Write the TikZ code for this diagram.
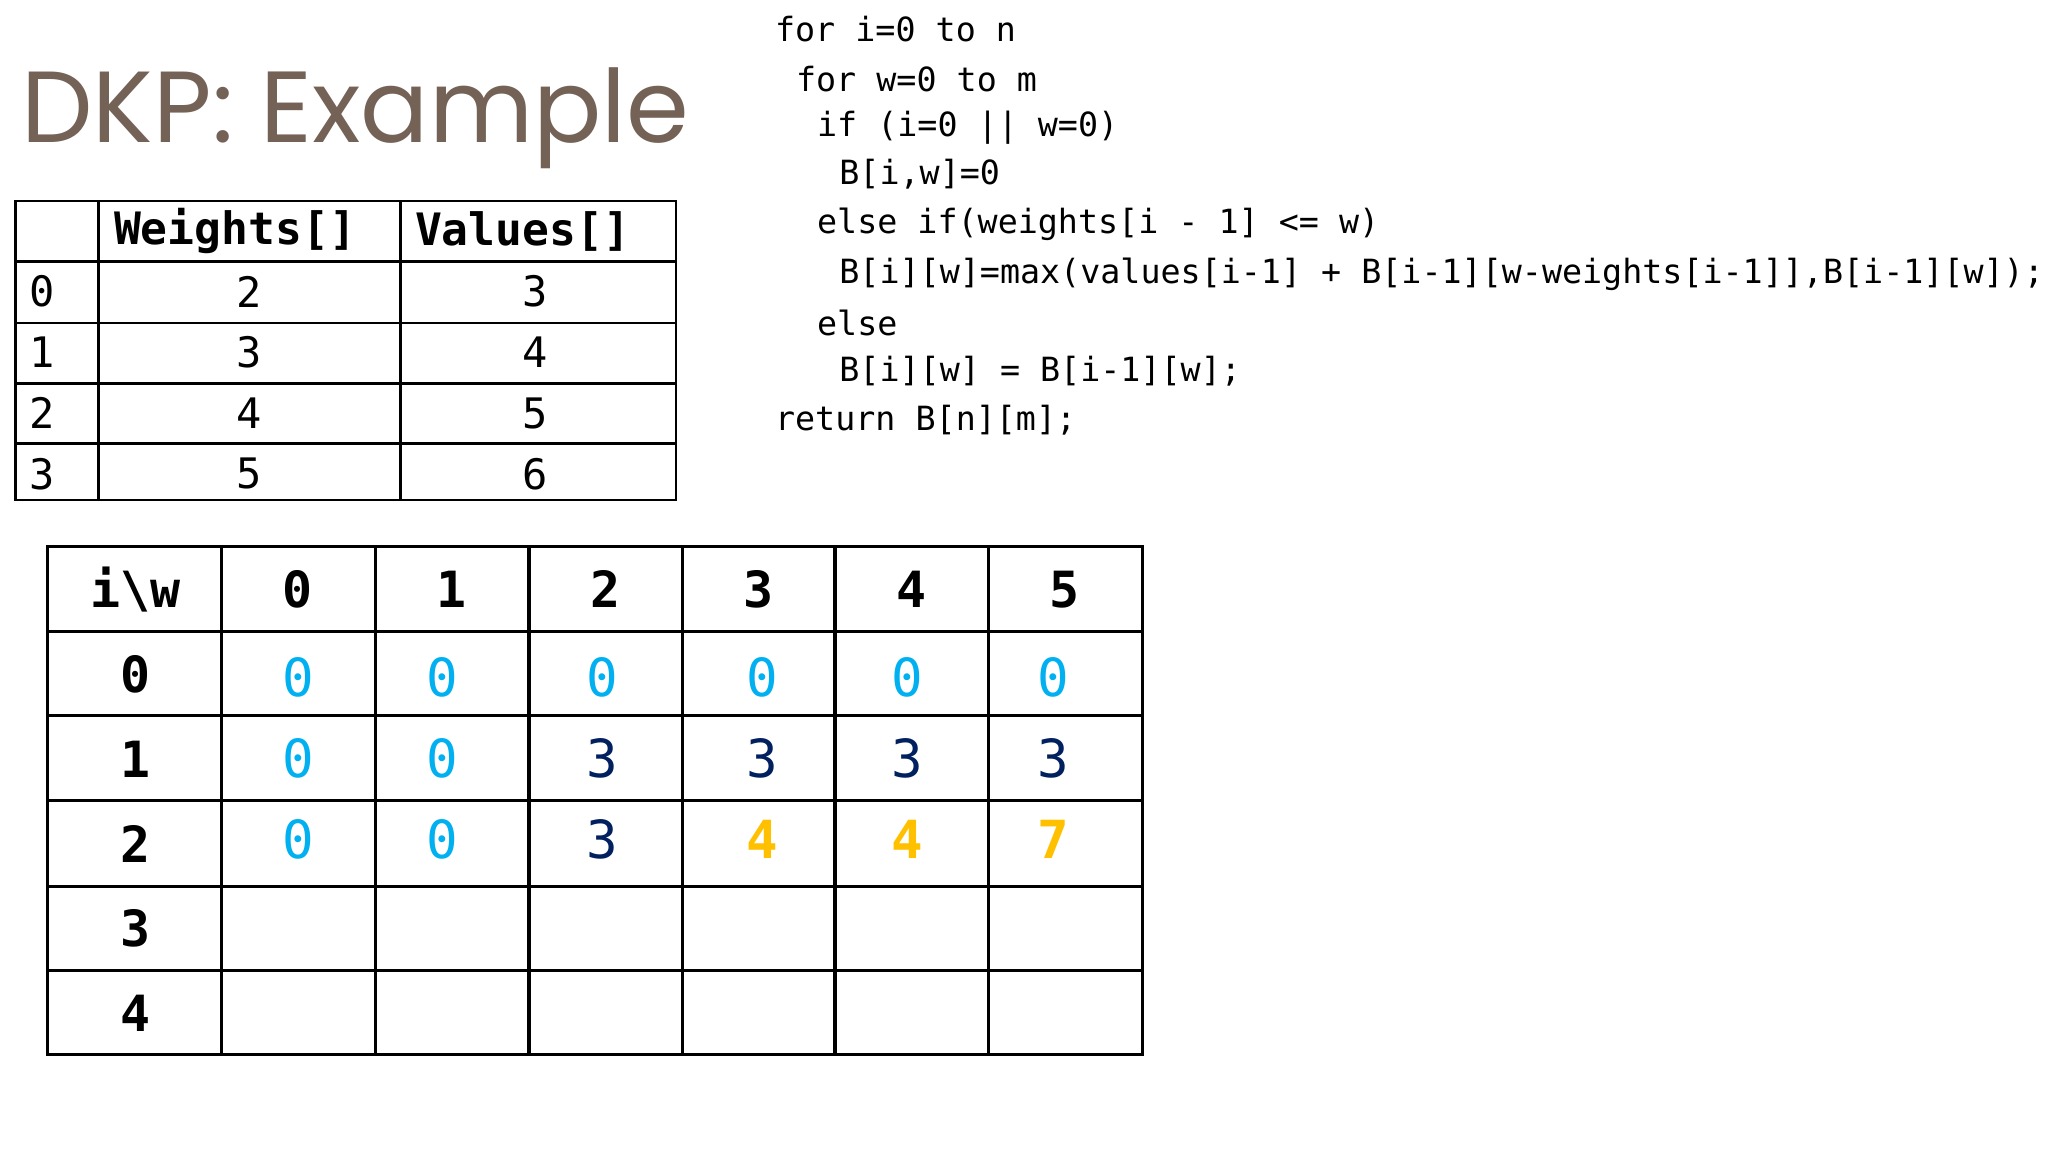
\documentclass[tikz,border=0pt]{standalone}
\usepackage{fontspec}
\setmainfont{Poppins}
\setmonofont{DejaVu Sans Mono}
\definecolor{titlebrown}{RGB}{117,98,86}
\definecolor{zerocyan}{RGB}{0,176,240}
\definecolor{valnavy}{RGB}{0,32,96}
\definecolor{newgold}{RGB}{255,192,0}
\begin{document}
\begin{tikzpicture}[x=0.5pt,y=-0.5pt,
    codeline/.style={anchor=west,inner sep=0pt,font=\ttfamily\fontsize{12.7}{14}\selectfont},
    small cell/.style={inner sep=0pt,font=\ttfamily\fontsize{16}{18}\selectfont},
    head cell/.style={inner sep=0pt,font=\ttfamily\bfseries\fontsize{17}{19}\selectfont},
    big cell/.style={inner sep=0pt,font=\ttfamily\bfseries\fontsize{19}{22}\selectfont},
    dp cell/.style={inner sep=0pt,font=\ttfamily\fontsize{20}{22}\selectfont},
    new cell/.style={dp cell,font=\ttfamily\bfseries\fontsize{20}{22}\selectfont}
  ]
  \useasboundingbox[fill=white] (0,0) rectangle (1560,877.5);
  % title
  \node[anchor=west,inner sep=0pt,text=titlebrown,font=\fontsize{38.5}{42}\selectfont] (title) at (16,90) {DKP: Example};
  % pseudo code
  \node[codeline] (c1) at (590,22) {for i=0 to n};
  \node[codeline] (c2) at (606,60) {for w=0 to m};
  \node[codeline] (c3) at (622,97) {if (i=0 || w=0)};
  \node[codeline] (c4) at (639,133) {B[i,w]=0};
  \node[codeline] (c5) at (622,171) {else if(weights[i - 1] <= w)};
  \node[codeline] (c6) at (639,209) {B[i][w]=max(values[i-1] + B[i-1][w-weights[i-1]],B[i-1][w]);};
  \node[codeline] (c7) at (622,246) {else};
  \node[codeline] (c8) at (639,283) {B[i][w] = B[i-1][w];};
  \node[codeline] (c9) at (590,320) {return B[n][m];};
  % items table
  \draw[line width=1pt] (12,153) rectangle (515,381);
  \foreach \x in {75,305} \draw[line width=1pt] (\x,153) -- (\x,381);
  \foreach \y in {199,246,292,338} \draw[line width=1pt] (12,\y) -- (515,\y);
  \node[head cell] (wh) at (179,176) {Weights[]};
  \node[head cell] (vh) at (398,176) {Values[]};
  \foreach \i/\w/\v [count=\r from 0] in {0/2/3,1/3/4,2/4/5,3/5/6} {
    \node[small cell,anchor=west] (it\r) at (22,{222+46.3*\r}) {\i};
    \node[small cell] (w\r) at (190,{222+46.3*\r}) {\w};
    \node[small cell] (v\r) at (408,{222+46.3*\r}) {\v};
  }
  % dp table
  \draw[line width=1.2pt] (36,416) rectangle (870,803);
  \foreach \x in {169,286,403,520,636,753} \draw[line width=1.2pt] (\x,416) -- (\x,803);
  \foreach \y in {481,545,610,675,739} \draw[line width=1.2pt] (36,\y) -- (870,\y);
  \node[big cell] (corner) at (103,449) {i\textbackslash w};
  \foreach \c [count=\k from 0] in {227,344,461,578,694,811}
    \node[big cell] (col\k) at (\c,449) {\k};
  \foreach \k in {0,...,4}
    \node[big cell] (row\k) at (103,{514+64.5*\k}) {\k};
  \foreach \c [count=\k from 0] in {227,337,459,581,691,802}
    \node[dp cell,text=zerocyan] (b0\k) at (\c,516) {0};
  \foreach \c/\t/\n [count=\k from 0] in {227/zerocyan/0,337/zerocyan/0,459/valnavy/3,581/valnavy/3,691/valnavy/3,802/valnavy/3}
    \node[dp cell,text=\t] (b1\k) at (\c,578) {\n};
  \foreach \c/\t/\n [count=\k from 0] in {227/zerocyan/0,337/zerocyan/0,459/valnavy/3}
    \node[dp cell,text=\t] (b2\k) at (\c,639) {\n};
  \foreach \c/\n [count=\k from 3] in {581/4,691/4,802/7}
    \node[new cell,text=newgold] (b2\k) at (\c,639) {\n};
\end{tikzpicture}
\end{document}
